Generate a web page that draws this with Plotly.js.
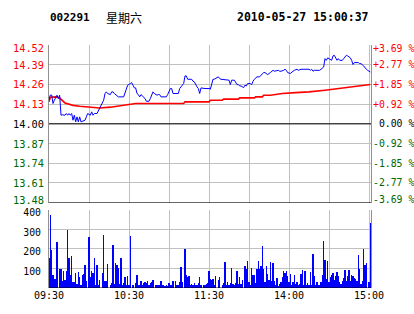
<!DOCTYPE html>
<html>
<head>
<meta charset="utf-8">
<script src="https://cdn.plot.ly/plotly-3.0.1.min.js"></script>
<style>html,body{margin:0;padding:0;background:#fff;}#chart{width:414px;height:314px;}</style>
</head>
<body>
<div id="chart"></div>
<script>
// ---- data (minute index from 09:30, 0..241) ----
var priceMin = [0,1,2,3,4,6,7,8,9,10,12,13,14,15,16,17,18,19,20,21,22,23,24,26,27,28,29,31,32,33,34,36,37,38,39,41,42,43,44,46,47,48,49,51,52,56,57,58,59,61,62,63,64,65,66,67,68,69,71,72,73,75,76,77,78,79,81,82,83,84,88,89,91,92,93,97,98,99,101,102,103,104,107,108,109,111,112,113,114,117,120,121,122,123,124,126,127,128,129,135,136,137,139,141,142,143,144,146,147,148,149,151,152,153,154,156,158,159,161,162,163,164,166,167,168,169,171,172,173,174,176,177,178,179,181,182,183,184,186,187,189,195,196,197,198,199,203,204,206,207,208,209,210,211,212,213,214,216,217,218,220,221,222,223,224,226,227,228,229,232,233,234,236,237,238,239,241];
var priceVal = [14.16,14.19,14.19,14.134,14.156,14.189,14.167,14.189,14.057,14.06,14.057,14.068,14.057,14.068,14.057,14.068,14.024,14.057,14.013,14.046,14.013,14.046,14.013,14.024,14.024,14.046,14.068,14.057,14.079,14.057,14.068,14.068,14.084,14.101,14.123,14.156,14.2,14.211,14.2,14.193,14.211,14.211,14.2,14.189,14.178,14.178,14.2,14.233,14.255,14.266,14.272,14.255,14.237,14.237,14.2,14.193,14.178,14.193,14.178,14.167,14.149,14.149,14.167,14.189,14.211,14.2,14.189,14.193,14.193,14.178,14.178,14.193,14.233,14.233,14.2,14.2,14.233,14.244,14.266,14.316,14.316,14.294,14.294,14.281,14.277,14.244,14.233,14.2,14.237,14.233,14.233,14.228,14.266,14.294,14.294,14.303,14.31,14.299,14.294,14.288,14.259,14.288,14.288,14.259,14.259,14.25,14.25,14.239,14.255,14.25,14.266,14.266,14.259,14.281,14.294,14.31,14.31,14.321,14.338,14.338,14.332,14.325,14.338,14.347,14.353,14.347,14.353,14.353,14.347,14.347,14.353,14.36,14.353,14.338,14.332,14.342,14.347,14.353,14.36,14.353,14.36,14.36,14.353,14.36,14.347,14.353,14.353,14.36,14.375,14.43,14.419,14.435,14.43,14.426,14.419,14.448,14.452,14.419,14.43,14.419,14.419,14.43,14.441,14.452,14.448,14.435,14.419,14.391,14.404,14.404,14.397,14.397,14.382,14.369,14.36,14.353,14.342];

var avgMin = [0,1,5,8,12,15,18,23,30,38,46,53,60,65,101,102,120,121,130,131,142,143,154,155,160,161,166,175,185,195,207,212,225,237,241];
var avgVal = [14.145,14.175,14.178,14.17,14.138,14.13,14.122,14.116,14.109,14.105,14.11,14.118,14.125,14.134,14.134,14.145,14.145,14.156,14.156,14.163,14.163,14.171,14.171,14.178,14.178,14.189,14.189,14.2,14.206,14.211,14.222,14.228,14.242,14.255,14.259];

var volMin = [0,1,2,3,4,5,6,8,9,10,11,12,13,14,15,16,17,18,19,20,21,22,23,24,25,26,27,28,30,31,32,33,34,35,36,37,38,40,41,42,43,44,46,47,48,49,50,51,52,53,54,55,56,57,58,59,60,61,63,65,66,67,68,69,70,71,72,73,74,75,76,77,78,80,81,82,83,84,85,86,87,88,89,90,91,92,93,95,96,97,98,99,100,102,103,104,105,106,107,108,109,110,111,112,113,114,116,117,118,119,120,121,122,123,124,125,127,128,130,131,132,133,134,135,136,137,138,139,140,141,142,143,144,145,147,148,149,150,151,152,153,154,155,156,157,158,159,160,161,162,163,164,165,166,167,168,169,170,171,172,173,174,175,176,177,178,179,180,181,182,183,184,185,186,187,188,189,190,191,192,193,194,195,196,197,198,199,200,201,202,203,204,205,206,207,208,209,210,211,212,213,214,215,216,217,218,219,220,221,222,223,224,225,226,227,228,229,230,231,232,233,234,235,236,237,238,240,241];
var volVal = [155,370,194,67,47,47,233,98,98,37,88,43,88,296,155,64,164,30,30,76,20,81,54,14,67,71,115,37,262,54,88,76,152,14,115,14,43,76,270,37,37,122,14,25,220,20,127,118,101,20,152,17,25,54,17,59,14,265,14,25,64,14,17,37,14,24,30,25,37,17,24,30,43,17,14,17,14,34,14,17,8,14,10,25,14,17,37,34,14,17,30,105,30,199,67,54,62,14,20,14,25,17,14,24,54,17,14,17,20,24,88,47,43,47,14,59,43,54,14,24,132,17,30,14,25,101,20,14,25,88,20,54,20,43,110,98,139,30,17,101,67,67,25,98,139,98,110,216,98,30,110,71,43,132,37,127,37,14,50,8,20,30,54,88,76,88,59,30,71,14,30,64,20,30,17,20,71,93,14,88,14,25,17,81,14,172,59,17,30,14,14,30,67,240,144,47,139,30,54,67,76,43,59,81,59,30,20,37,50,93,37,59,93,37,64,59,50,47,37,169,98,20,37,199,115,127,30,330];

var priceTicks = [13.48,13.61,13.74,13.87,14.00,14.13,14.26,14.39,14.52];
var priceLabels = ['13.48','13.61','13.74','13.87','14.00','14.13','14.26','14.39','14.52'];
var pctLabels = ['-3.69 %','-2.77 %','-1.85 %','-0.92 %','\u00a00.00 %','+0.92 %','+1.85 %','+2.77 %','+3.69 %'];
var volTicks = [100,200,300,400];
var volLabels = ['100','200','300','400'];
var timeTicks = [0,30,60,90,120,150,180,210,240];
var timeLabels = ['09:30','','10:30','','11:30','','14:00','','15:00'];
var prevClose = 14.00;

// ---- styling ----
var RED = '#ff0000', GREEN = '#006600', BLACK = '#000000';
function colorFor(v){ return v > prevClose + 1e-9 ? RED : (v < prevClose - 1e-9 ? GREEN : BLACK); }
var MONO = 'DejaVu Sans Mono, monospace';
var GRID = '#c0c0c0', BORDER = '#909090';

function labelShift(i){ return i === priceTicks.length - 1 ? -3 : (i === 0 ? 3 : 0); }

var annotations = [
  {text:'<b>002291</b>', xref:'paper', yref:'paper', x:0.0, y:1.115, xanchor:'left', yanchor:'middle', showarrow:false,
   font:{family:MONO, size:11, color:BLACK}, borderpad:0},
  {text:'星期六', xref:'paper', yref:'paper', x:0.175, y:1.115, xanchor:'left', yanchor:'middle', showarrow:false,
   font:{family:'Noto Sans CJK SC, sans-serif', size:12, color:BLACK}, borderpad:0},
  {text:'<b>2010-05-27 15:00:37</b>', xref:'paper', yref:'paper', x:0.997, y:1.115, xanchor:'right', yanchor:'middle', showarrow:false,
   font:{family:MONO, size:11.5, color:BLACK}, borderpad:0}
];
priceTicks.forEach(function(v,i){
  annotations.push({text:priceLabels[i], xref:'paper', yref:'y', x:0, y:v, xanchor:'right', yanchor:'middle',
    xshift:-4, yshift:labelShift(i), showarrow:false, borderpad:0, font:{family:MONO, size:10.3, color:colorFor(v)}});
  annotations.push({text:pctLabels[i], xref:'paper', yref:'y', x:1, y:v, xanchor:'left', yanchor:'middle',
    xshift:1, yshift:labelShift(i), showarrow:false, borderpad:0, font:{family:MONO, size:9.8, color:colorFor(v)}});
});

var traces = [
  {x: avgMin, y: avgVal, type:'scatter', mode:'lines', line:{color:'#ff0000', width:1.6}, xaxis:'x', yaxis:'y', hoverinfo:'skip'},
  {x: priceMin, y: priceVal, type:'scatter', mode:'lines', line:{color:'#0000ff', width:1}, xaxis:'x', yaxis:'y', hoverinfo:'skip'},
  {x: volMin, y: volVal, type:'bar', marker:{color:'#0000ff', line:{width:0}}, width:0.8, xaxis:'x', yaxis:'y3', hoverinfo:'skip'}
];

var layout = {
  width:414, height:314,
  margin:{l:49, r:43, t:45, b:26, pad:0},
  paper_bgcolor:'#ffffff', plot_bgcolor:'#ffffff',
  showlegend:false,
  bargap:0,
  xaxis:{range:[0,241.5], tickvals:timeTicks, ticktext:timeLabels, showgrid:true, gridcolor:GRID, gridwidth:1,
         zeroline:false, showline:false, ticks:'', anchor:'y3', tickfont:{family:MONO, size:10, color:BLACK}, fixedrange:true},
  yaxis:{domain:[0.351,1], range:[13.48,14.52], tickvals:priceTicks, showticklabels:false, showgrid:true, gridcolor:GRID, gridwidth:1,
         zeroline:false, showline:true, linecolor:BORDER, linewidth:1, mirror:true, ticks:'', fixedrange:true},
  yaxis3:{domain:[0,0.323], range:[0,400], tickvals:volTicks, ticktext:volLabels, showgrid:true, gridcolor:GRID, gridwidth:1,
          zeroline:false, showline:true, linecolor:BORDER, linewidth:1, mirror:true, ticks:'', ticklabelstandoff:5, ticklabelshift:3,
          tickfont:{family:MONO, size:9.8, color:BLACK}, fixedrange:true},
  shapes:[
    {type:'line', xref:'paper', x0:0, x1:1, yref:'y', y0:prevClose, y1:prevClose, line:{color:BLACK, width:1}},
    {type:'line', xref:'paper', x0:0, x1:1, yref:'y', y0:13.48, y1:13.48, line:{color:BLACK, width:1}},
    {type:'line', xref:'paper', x0:0, x1:1, yref:'y3', y0:0, y1:0, line:{color:BLACK, width:1}}
  ],
  annotations: annotations
};

Plotly.newPlot('chart', traces, layout, {staticPlot:true, displayModeBar:false});
</script>
</body>
</html>
